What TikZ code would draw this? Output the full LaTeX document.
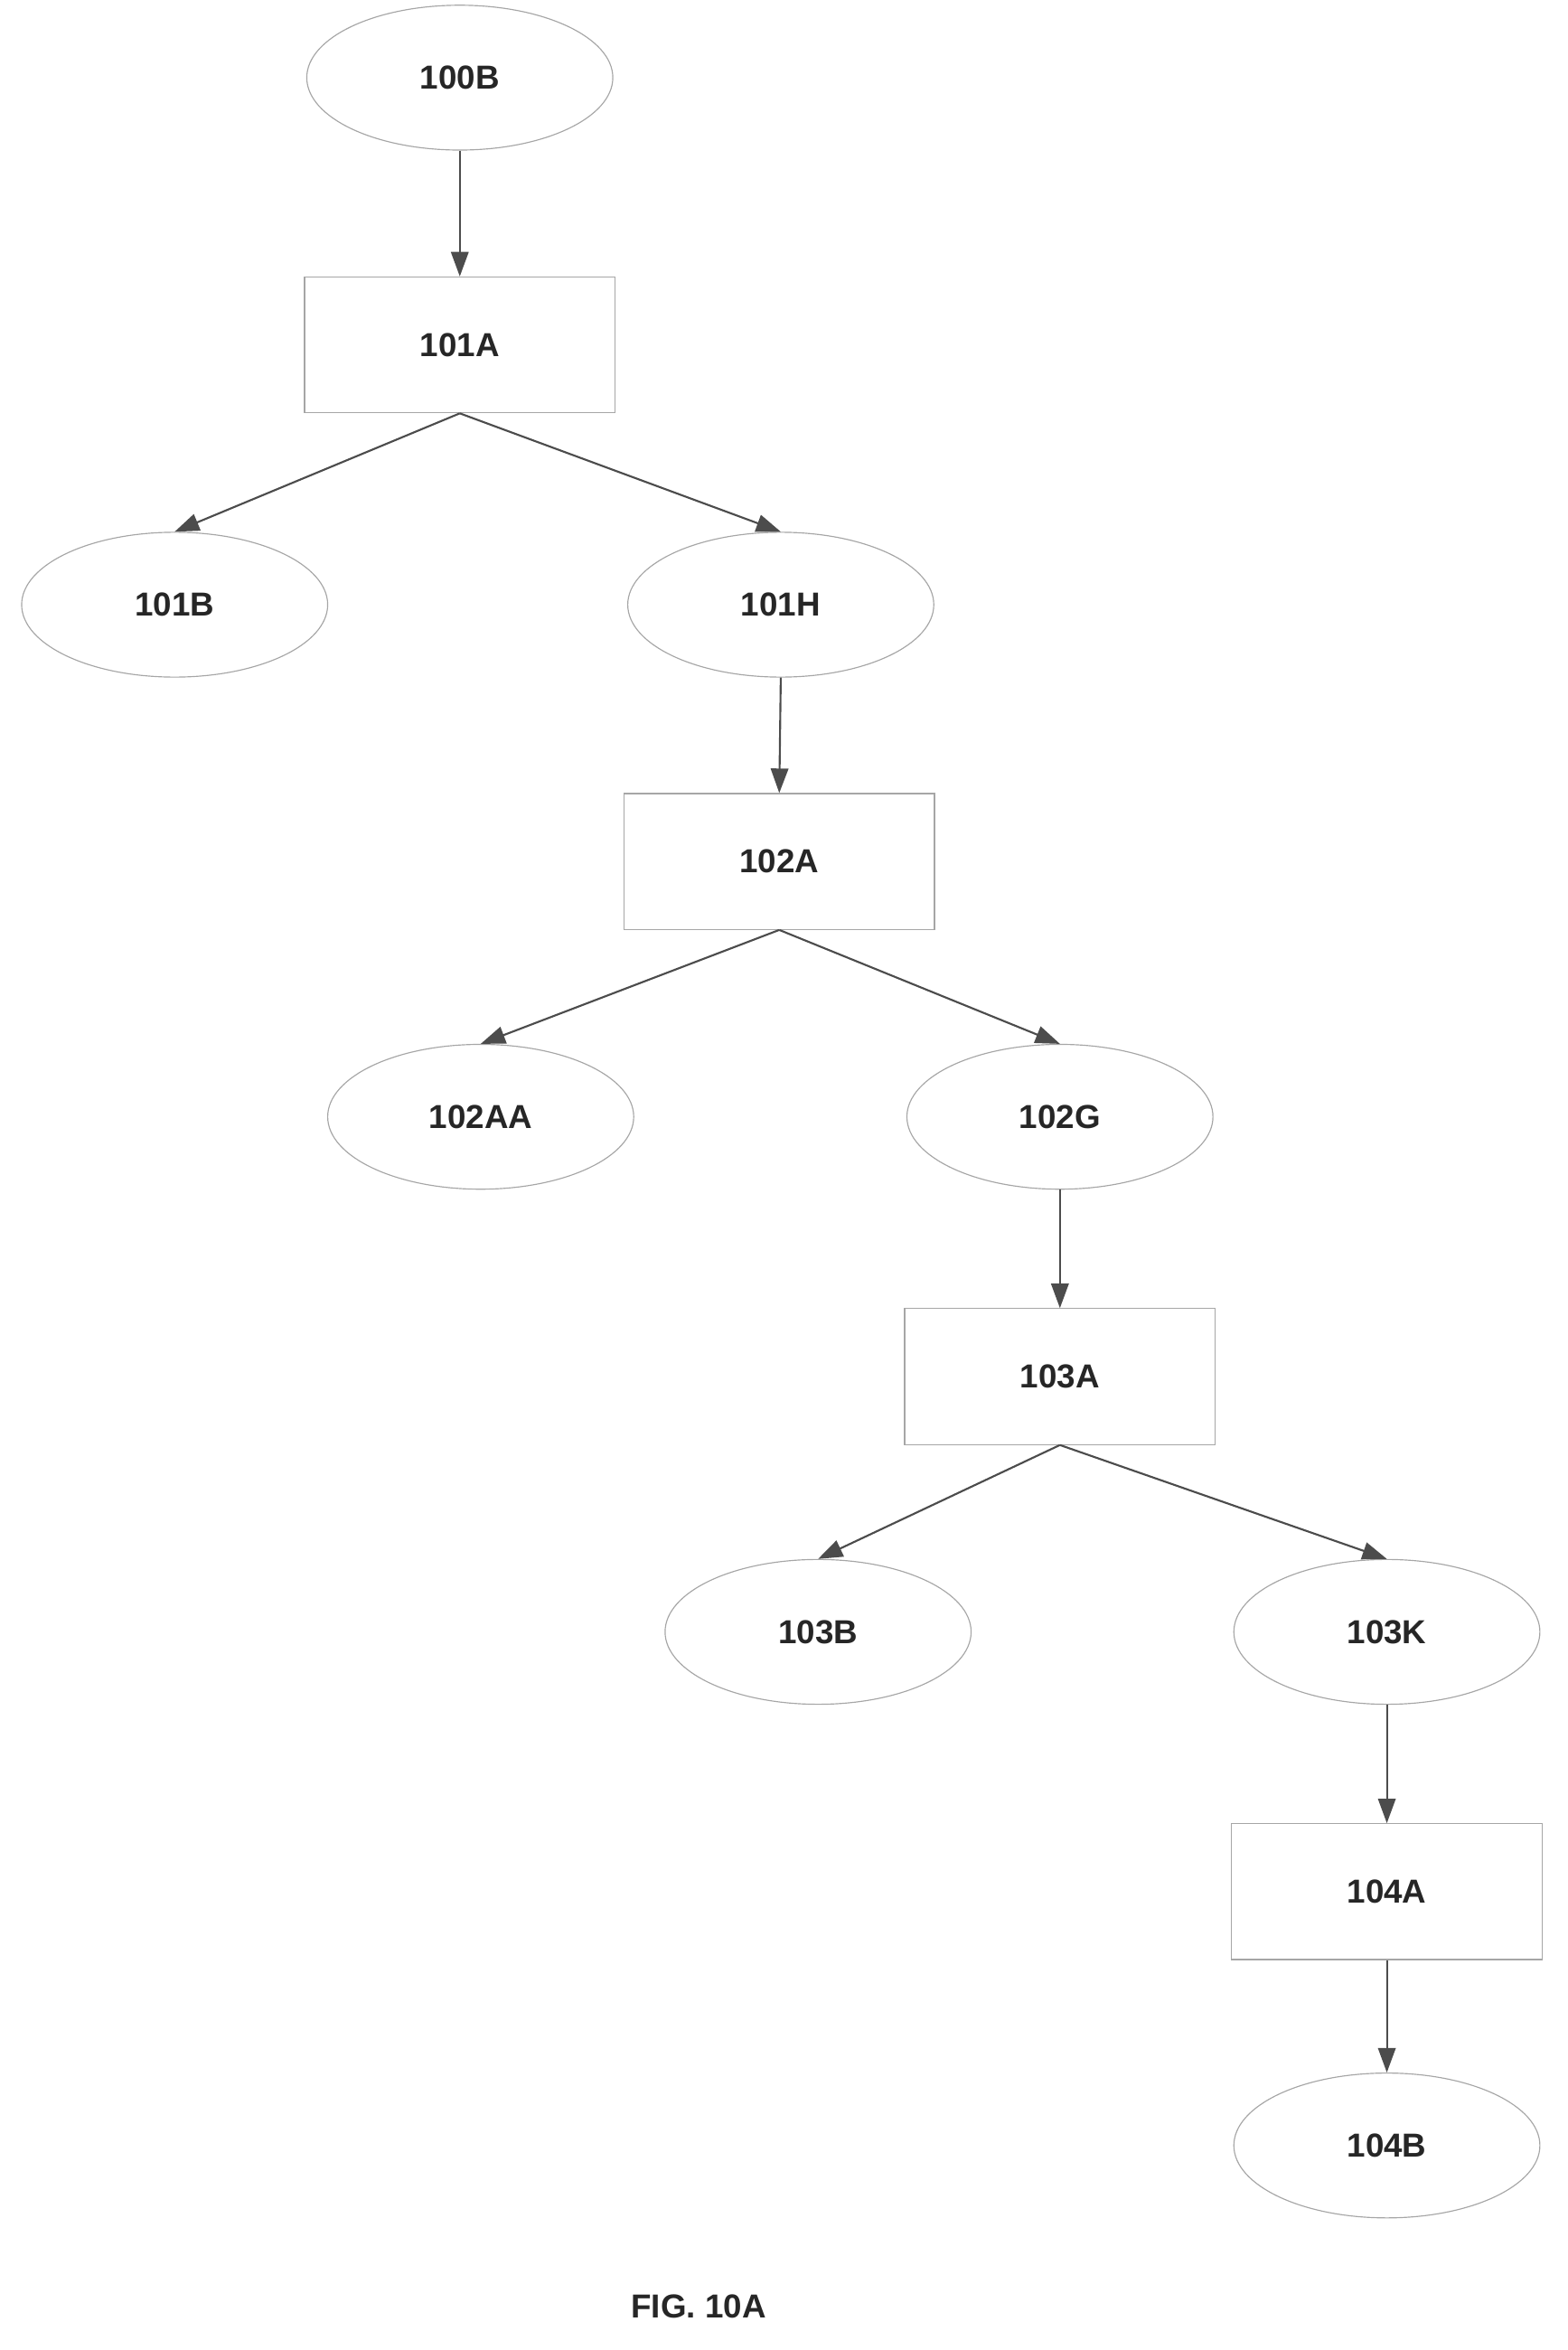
\documentclass[tikz,border=0pt]{standalone}
\usepackage{fontspec}
\setmainfont{Liberation Sans}
\usetikzlibrary{shapes.geometric,arrows.meta}
\begin{document}
\begin{tikzpicture}[x=0.3mm,y=-0.3mm,
  every node/.style={font=\fontsize{19}{22}\selectfont\bfseries, text=black!85},
  ell/.style={ellipse, draw=black!35, line width=0.6pt, minimum width=205*0.3mm, minimum height=97*0.3mm, inner sep=0pt},
  box/.style={rectangle, draw=black!35, line width=0.6pt, minimum width=208*0.3mm, minimum height=91*0.3mm, inner sep=0pt},
  arr/.style={draw=black!70, line width=1.1pt, -{Triangle[length=14pt,width=10pt]}}]
\useasboundingbox (0,0) rectangle (1050,1574);
\node[ell] (n100B) at (308,52) {100B};
\node[box] (n101A) at (308,231) {101A};
\node[ell] (n101B) at (117,405) {101B};
\node[ell] (n101H) at (523,405) {101H};
\node[box] (n102A) at (522,577) {102A};
\node[ell] (n102AA) at (322,748) {102AA};
\node[ell] (n102G) at (710,748) {102G};
\node[box] (n103A) at (710,922) {103A};
\node[ell] (n103B) at (548,1093) {103B};
\node[ell] (n103K) at (929,1093) {103K};
\node[box] (n104A) at (929,1267) {104A};
\node[ell] (n104B) at (929,1437) {104B};
\node (fig) at (468,1545) {FIG. 10A};
\draw[arr] (n100B.south) -- (n101A.north);
\draw[arr] (n101A.south) -- (n101B.north);
\draw[arr] (n101A.south) -- (n101H.north);
\draw[arr] (n101H.south) -- (n102A.north);
\draw[arr] (n102A.south) -- (n102AA.north);
\draw[arr] (n102A.south) -- (n102G.north);
\draw[arr] (n102G.south) -- (n103A.north);
\draw[arr] (n103A.south) -- (n103B.north);
\draw[arr] (n103A.south) -- (n103K.north);
\draw[arr] (n103K.south) -- (n104A.north);
\draw[arr] (n104A.south) -- (n104B.north);
\end{tikzpicture}
\end{document}
